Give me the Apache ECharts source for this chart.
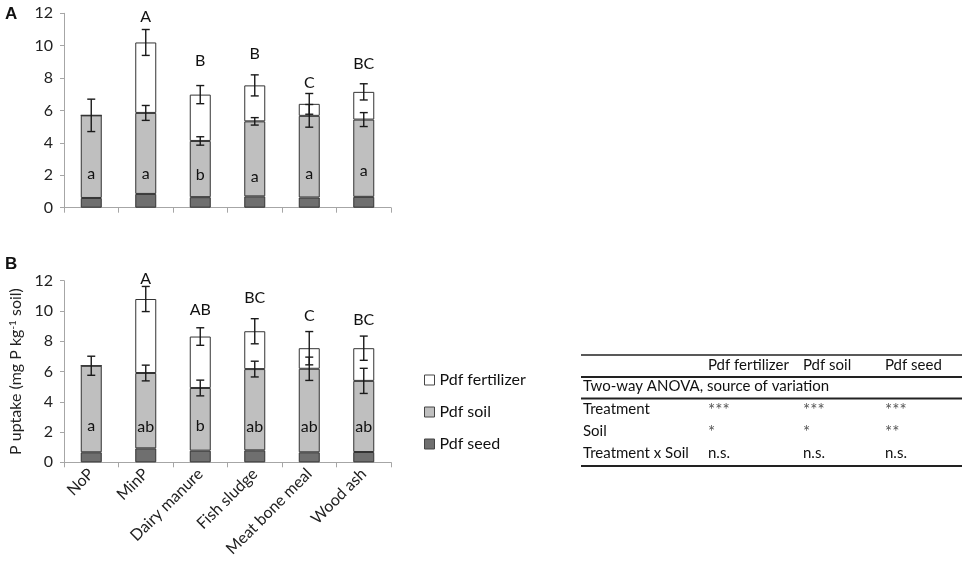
<!DOCTYPE html>
<html>
<head>
<meta charset="utf-8">
<script src="https://cdn.jsdelivr.net/npm/echarts@6/dist/echarts.min.js"></script>
<style>
  html, body { margin: 0; padding: 0; background: #fff; }
  #chart { width: 965px; height: 577px; }
</style>
</head>
<body>
<div id="chart"></div>
<script>
// ---- data ----
var categories = ["NoP", "MinP", "Dairy manure", "Fish sludge", "Meat bone meal", "Wood ash"];

// panel A
var seedA = [0.6, 0.85, 0.65, 0.7, 0.63, 0.67];
var soilA = [5.1, 5.0, 3.47, 4.63, 5.04, 4.77];
var fertA = [0, 4.35, 2.86, 2.22, 0.74, 1.71];
var errSoilA = [1.0, 0.46, 0.26, 0.23, 0.7, 0.43];
var errFertA = [0, 0.8, 0.56, 0.65, 0.64, 0.5];
var upperA = ["", "A", "B", "B", "C", "BC"];
var lowerA = ["a", "a", "b", "a", "a", "a"];

// panel B
var seedB = [0.66, 0.92, 0.77, 0.79, 0.66, 0.68];
var soilB = [5.72, 4.98, 4.14, 5.37, 5.52, 4.7];
var fertB = [0, 4.89, 3.4, 2.5, 1.36, 2.16];
var errSoilB = [0.63, 0.52, 0.52, 0.52, 0.77, 0.83];
var errFertB = [0, 0.83, 0.58, 0.83, 1.1, 0.8];
var upperB = ["", "A", "AB", "BC", "C", "BC"];
var lowerB = ["a", "ab", "b", "ab", "ab", "ab"];

var yTicks = { min: 0, max: 12, interval: 2 };

// ANOVA table
var tableHead = ["Pdf fertilizer", "Pdf soil", "Pdf seed"];
var tableCaption = "Two-way ANOVA, source of variation";
var tableRowNames = ["Treatment", "Soil", "Treatment x Soil"];
var tableCells = [
  ["***", "***", "***"],
  ["*", "*", "**"],
  ["n.s.", "n.s.", "n.s."]
];

// where the letters sit on the value axis (as in the figure)
var upperAtA = [0, 11.8, 9.05, 9.5, 7.7, 8.9];
var upperAtB = [0, 12.1, 10.05, 10.9, 9.7, 9.4];
var lowerAtA = [2.1, 2.1, 2.0, 1.9, 2.1, 2.3];
var lowerAtB = [2.4, 2.35, 2.4, 2.35, 2.35, 2.35];

// ---- styles ----
var font = "Lato, 'Noto Sans', sans-serif";
var axisGrey = "#a6a6a6";
var edge = "#333333";
var colSeed = "#6f6f6f", colSoil = "#bfbfbf", colFert = "#ffffff";

function add(a, b) { return a.map(function (v, i) { return v + b[i]; }); }

function bars(panel, seed, soil, fert) {
  var base = { type: "bar", stack: "p" + panel, xAxisIndex: panel, yAxisIndex: panel,
               barWidth: 21, animation: false };
  var st = function (c) { return { color: c, borderColor: edge, borderWidth: 1 }; };
  return [
    Object.assign({ name: "Pdf seed", data: seed, itemStyle: st(colSeed) }, base),
    Object.assign({ name: "Pdf soil", data: soil, itemStyle: st(colSoil) }, base),
    Object.assign({ name: "Pdf fertilizer", data: fert, itemStyle: st(colFert) }, base)
  ];
}

function errorBars(panel, centers, halves) {
  return {
    type: "custom", xAxisIndex: panel, yAxisIndex: panel, z: 5, silent: true, animation: false,
    data: centers.map(function (c, i) { return [i, c, halves[i]]; }),
    renderItem: function (params, api) {
      var h = api.value(2);
      if (!h) return null;
      var i = api.value(0), c = api.value(1);
      var x = api.coord([i, c])[0];
      var yt = api.coord([i, c + h])[1], yb = api.coord([i, c - h])[1];
      var s = { stroke: "#1a1a1a", lineWidth: 1.4 };
      return { type: "group", children: [
        { type: "line", shape: { x1: x, y1: yt, x2: x, y2: yb }, style: s },
        { type: "line", shape: { x1: x - 4, y1: yt, x2: x + 4, y2: yt }, style: s },
        { type: "line", shape: { x1: x - 4, y1: yb, x2: x + 4, y2: yb }, style: s }
      ] };
    }
  };
}

function letters(panel, texts, at) {
  return {
    type: "custom", xAxisIndex: panel, yAxisIndex: panel, z: 6, silent: true, animation: false,
    clip: false,
    data: at.map(function (v, i) { return [i, v]; }),
    renderItem: function (params, api) {
      var t = texts[params.dataIndex];
      if (!t) return null;
      var p = api.coord([api.value(0), api.value(1)]);
      return { type: "text", style: { text: t, x: p[0], y: p[1], align: "center",
        verticalAlign: "middle", font: "16px " + font, fill: "#111" } };
    }
  };
}

function yAxis(grid, extra) {
  return Object.assign({
    type: "value", gridIndex: grid, min: yTicks.min, max: yTicks.max, interval: yTicks.interval,
    axisLine: { show: true, lineStyle: { color: axisGrey, width: 1 } },
    axisTick: { show: true, length: 4, lineStyle: { color: axisGrey } },
    axisLabel: { color: "#222", fontFamily: font, fontSize: 16, margin: 11 },
    splitLine: { show: false }
  }, extra || {});
}

function xAxis(grid, showLabels) {
  return {
    type: "category", gridIndex: grid, data: categories,
    axisLine: { lineStyle: { color: axisGrey, width: 1 } },
    axisTick: { show: true, length: 5, alignWithLabel: false, lineStyle: { color: axisGrey } },
    axisLabel: { show: showLabels, rotate: 45, interval: 0, margin: 9, color: "#222",
                 fontFamily: font, fontSize: 16 }
  };
}

// table graphics
var tx = { label: 583, cols: [708, 803, 885], left: 581, right: 962 };
var ty = { head: 366.5, caption: 388, rows: [410.5, 432.5, 455], lines: [355, 377, 398.5, 466] };
var graphics = [];
function gText(t, x, y, f, fill) {
  graphics.push({ type: "text", left: x, top: y - 9, silent: true,
    style: { text: t, font: f || ("15px " + font), fill: fill || "#111" } });
}
ty.lines.forEach(function (y, k) {
  graphics.push({ type: "line", silent: true,
    shape: { x1: tx.left, y1: y, x2: tx.right, y2: y },
    style: { stroke: "#222", lineWidth: k === 0 ? 1.4 : 1.8 } });
});
tableHead.forEach(function (h, j) { gText(h, tx.cols[j], ty.head); });
gText(tableCaption, tx.label, ty.caption);
tableRowNames.forEach(function (r, k) {
  gText(r, tx.label, ty.rows[k]);
  tableCells[k].forEach(function (c, j) {
    var star = c.indexOf("*") === 0;
    gText(c, tx.cols[j], ty.rows[k] + (star ? 1 : 0), star ? "17px " + font : null, star ? "#555" : null);
  });
});
// panel letters
graphics.push({ type: "text", left: 5, top: 6, style: { text: "A", font: "bold 17px 'Liberation Sans', Arial", fill: "#111" } });
graphics.push({ type: "text", left: 5, top: 256, style: { text: "B", font: "bold 17px 'Liberation Sans', Arial", fill: "#111" } });

var chart = echarts.init(document.getElementById("chart"), null, { renderer: "canvas" });
chart.setOption({
  animation: false,
  backgroundColor: "#fff",
  textStyle: { fontFamily: font },
  grid: [
    { left: 64, top: 13.3, width: 327, height: 194.4 },
    { left: 64, top: 280.7, width: 327, height: 181.6 }
  ],
  legend: {
    data: ["Pdf fertilizer", "Pdf soil", "Pdf seed"],
    orient: "vertical", left: 419, top: 367,
    itemWidth: 10, itemHeight: 10, itemGap: 16,
    icon: "rect",
    itemStyle: { borderColor: "#444", borderWidth: 1 },
    textStyle: { fontFamily: font, fontSize: 16, color: "#111" },
    selectedMode: false
  },
  xAxis: [xAxis(0, false), xAxis(1, true)],
  yAxis: [
    yAxis(0),
    yAxis(1, {
      name: "P uptake (mg P kg{sup|-1} soil)",
      nameLocation: "middle", nameRotate: 90, nameGap: 40,
      nameTextStyle: { fontFamily: font, fontSize: 16, color: "#222",
        rich: { sup: { fontFamily: font, fontSize: 10, verticalAlign: "top", color: "#222" } } }
    })
  ],
  series: [].concat(
    bars(0, seedA, soilA, fertA),
    bars(1, seedB, soilB, fertB),
    [
      errorBars(0, add(seedA, soilA), errSoilA),
      errorBars(0, add(add(seedA, soilA), fertA), errFertA),
      errorBars(1, add(seedB, soilB), errSoilB),
      errorBars(1, add(add(seedB, soilB), fertB), errFertB),
      letters(0, upperA, upperAtA),
      letters(0, lowerA, lowerAtA),
      letters(1, upperB, upperAtB),
      letters(1, lowerB, lowerAtB)
    ]
  ),
  graphic: graphics
});
</script>
</body>
</html>
